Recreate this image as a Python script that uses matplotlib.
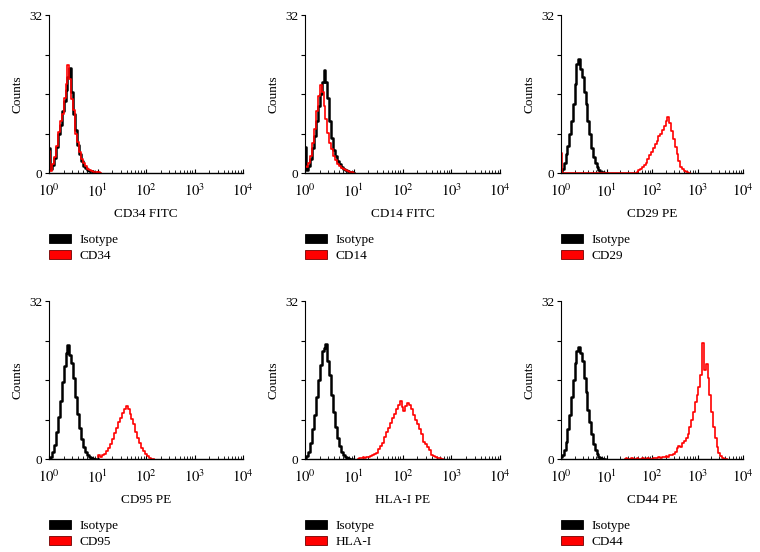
import numpy as np
import matplotlib
matplotlib.use("Agg")
import matplotlib.pyplot as plt
from matplotlib.patches import Patch
from matplotlib.ticker import LogLocator, NullFormatter

plt.rcParams["font.family"] = ["Liberation Serif", "DejaVu Serif"]
plt.rcParams["mathtext.fontset"] = "stix"
plt.rcParams["font.size"] = 9.5

# histogram channels: counts every STEP decades, starting at a given log10 value
STEP = 0.04

markers = ["CD34", "CD14", "CD29", "CD95", "HLA-I", "CD44"]
xlabels = ["CD34 FITC", "CD14 FITC", "CD29 PE", "CD95 PE", "HLA-I PE", "CD44 PE"]
xtick_labels = [r"$10^{0}$", r"$10^{1}$", r"$10^{2}$", r"$10^{3}$", r"$10^{4}$"]

# isotype controls (black), all start at 10^0
iso_cd34 = [5.0, 0.8, 1.6, 3.0, 5.2, 8.0, 9.8, 12.6, 14.5, 16.8, 19.5, 21.2, 16.5,
            12.0, 8.8, 5.6, 3.8, 2.4, 1.5, 1.0, 0.7, 0.5, 0.4, 0.2, 0.1, 0.0]
iso_cd14 = [5.3, 0.6, 1.5, 2.8, 5.0, 7.5, 10.5, 13.5, 16.0, 18.5, 20.8, 18.5, 15.2,
            10.5, 7.0, 4.6, 3.4, 2.5, 1.9, 1.3, 0.9, 0.7, 0.5, 0.3, 0.2, 0.0]
iso_cd29 = [0.3, 0.8, 2.0, 3.8, 5.5, 7.8, 10.5, 14.0, 18.0, 22.0, 23.0, 21.0, 19.5,
            16.5, 14.0, 10.5, 7.8, 5.0, 3.2, 2.0, 1.2, 0.6, 0.3, 0.2, 0.1, 0.0]
iso_cd95 = [0.3, 0.5, 1.4, 2.8, 5.5, 8.5, 11.8, 15.5, 18.8, 21.5, 23.0, 21.0, 19.5,
            16.4, 12.5, 9.2, 6.2, 4.0, 2.5, 1.4, 0.8, 0.4, 0.2, 0.1, 0.0, 0.0]
iso_hla = [0.2, 0.6, 1.5, 3.2, 6.0, 9.0, 12.5, 16.0, 19.0, 21.8, 22.5, 23.2, 19.8,
           17.0, 13.0, 9.5, 6.5, 4.2, 2.6, 1.5, 0.8, 0.4, 0.2, 0.1, 0.0]
iso_cd44 = [0.5, 0.8, 1.8, 3.5, 6.0, 9.0, 12.5, 16.0, 19.5, 21.8, 22.7, 21.5, 19.8,
            16.5, 13.5, 10.0, 7.5, 5.0, 3.0, 1.8, 1.0, 0.5, 0.3, 0.1, 0.0]
iso_counts = [iso_cd34, iso_cd14, iso_cd29, iso_cd95, iso_hla, iso_cd44]

# stained samples (red): start log10 and counts
start_cd34 = 0.0
red_cd34 = [4.5, 0.5, 1.8, 3.3, 5.5, 8.4, 10.6, 12.0, 15.2, 18.0, 21.8, 19.0, 15.0,
            12.8, 8.0, 6.2, 4.2, 2.8, 2.0, 1.4, 0.9, 0.6, 0.4, 0.3, 0.2, 0.1, 0.2, 0.0]
start_cd14 = 0.0
red_cd14 = [1.5, 1.2, 2.0, 3.5, 6.0, 9.0, 12.5, 15.5, 17.8, 16.5, 13.5, 11.0, 8.2,
            6.0, 4.8, 3.5, 2.6, 1.8, 1.4, 1.1, 0.8, 0.6, 0.5, 0.3, 0.2, 0.0]
start_cd29 = 0.0
red_cd29 = [4.0] + [0.0] * 40 + [
    0.0, 0.3, 0.6, 0.9, 1.2, 1.6, 2.0, 2.8, 3.6, 4.2, 5.0, 5.8, 6.5, 7.4, 8.0, 8.8,
    9.6, 10.5, 11.3, 10.2, 8.5, 6.8, 5.2, 3.8, 2.4, 1.2, 0.8, 0.5, 0.3, 0.1, 0.0]
start_cd95 = 1.0
red_cd95 = [0.4, 0.8, 0.5, 0.9, 1.1, 1.6, 2.3, 3.1, 4.0, 5.2, 6.3, 7.4, 8.4, 9.4,
            10.2, 10.8, 10.2, 9.2, 8.2, 7.0, 5.4, 4.2, 3.2, 2.2, 1.6, 1.0, 0.6, 0.3,
            0.1, 0.0]
start_hla = 1.08
red_hla = [0.0, 0.3, 0.2, 0.4, 0.3, 0.5, 0.4, 0.7, 0.9, 1.1, 1.3, 2.0, 2.6, 3.3, 4.4,
           5.4, 6.2, 7.2, 8.3, 9.2, 10.2, 11.0, 11.7, 10.5, 9.7, 10.8, 11.3, 11.0,
           10.2, 9.0, 8.0, 7.0, 6.0, 5.0, 3.5, 3.0, 2.5, 1.8, 0.9, 0.6, 0.4, 0.3,
           0.2, 0.1, 0.0]
start_cd44 = 1.40
red_cd44 = [0.0, 0.3, 0.0, 0.0, 0.2, 0.0, 0.0, 0.3, 0.0, 0.0, 0.2, 0.0, 0.1, 0.2,
            0.0, 0.1, 0.2, 0.3, 0.2, 0.4, 0.3, 0.5, 0.4, 0.6, 0.5, 0.8, 0.9, 1.0,
            1.5, 2.3, 2.6, 2.4, 3.2, 3.6, 4.2, 5.0, 6.4, 7.8, 9.6, 11.5, 13.0, 14.5,
            17.0, 23.4, 18.0, 19.2, 16.5, 13.0, 9.5, 6.5, 4.2, 2.4, 1.3, 0.6, 0.3,
            0.1, 0.0]
red_starts = [start_cd34, start_cd14, start_cd29, start_cd95, start_hla, start_cd44]
red_counts = [red_cd34, red_cd14, red_cd29, red_cd95, red_hla, red_cd44]


def channels(start, counts):
    return 10 ** (start + STEP * np.arange(len(counts)))


def draw_panel(ax, i):
    iso = iso_counts[i]
    ax.plot(channels(0.0, iso), iso, color="black", lw=1.8,
            drawstyle="steps-mid")
    red = red_counts[i]
    ax.plot(channels(red_starts[i], red), red, color="red", lw=1.2,
            drawstyle="steps-mid")

    ax.set_xscale("log")
    ax.set_xlim(1, 1e4)
    ax.set_ylim(0, 32)
    for s in ["top", "right"]:
        ax.spines[s].set_visible(False)
    ax.spines["left"].set_linewidth(0.8)
    ax.spines["bottom"].set_linewidth(1.0)

    ax.set_xticks([1, 10, 100, 1000, 10000])
    ax.set_xticklabels(xtick_labels, fontsize=10.5)
    ax.xaxis.set_minor_locator(LogLocator(base=10, subs=np.arange(2, 10), numticks=20))
    ax.xaxis.set_minor_formatter(NullFormatter())
    ax.tick_params(axis="x", which="major", direction="in", length=3, width=0.8, pad=7)
    ax.tick_params(axis="x", which="minor", direction="in", length=2, width=0.6)

    ax.set_yticks([0, 8, 16, 24, 32])
    ax.set_yticklabels(["0", "", "", "", "32"])
    ax.tick_params(axis="y", direction="out", length=3, width=0.8, pad=2)

    ax.set_ylabel("Counts", labelpad=4)
    ax.set_xlabel(xlabels[i], labelpad=6)

    handles = [Patch(facecolor="black", edgecolor="black", lw=0.6),
               Patch(facecolor="red", edgecolor="#700000", lw=0.6)]
    ax.legend(handles, ["Isotype", markers[i]], loc="upper left",
              bbox_to_anchor=(0.0, -0.385), frameon=False, borderpad=0,
              borderaxespad=0, handlelength=1.7, handleheight=0.7,
              handletextpad=0.6, labelspacing=0.3)


fig = plt.figure(figsize=(7.6, 5.52), dpi=100)
lefts = [49 / 760, 305 / 760, 561 / 760]
widths = [194 / 760, 195 / 760, 182 / 760]
bottoms = [379 / 552, 93 / 552]
height = 158 / 552

for i in range(6):
    r, c = divmod(i, 3)
    ax = fig.add_axes([lefts[c], bottoms[r], widths[c], height])
    draw_panel(ax, i)

fig.savefig("out.png", dpi=100)
